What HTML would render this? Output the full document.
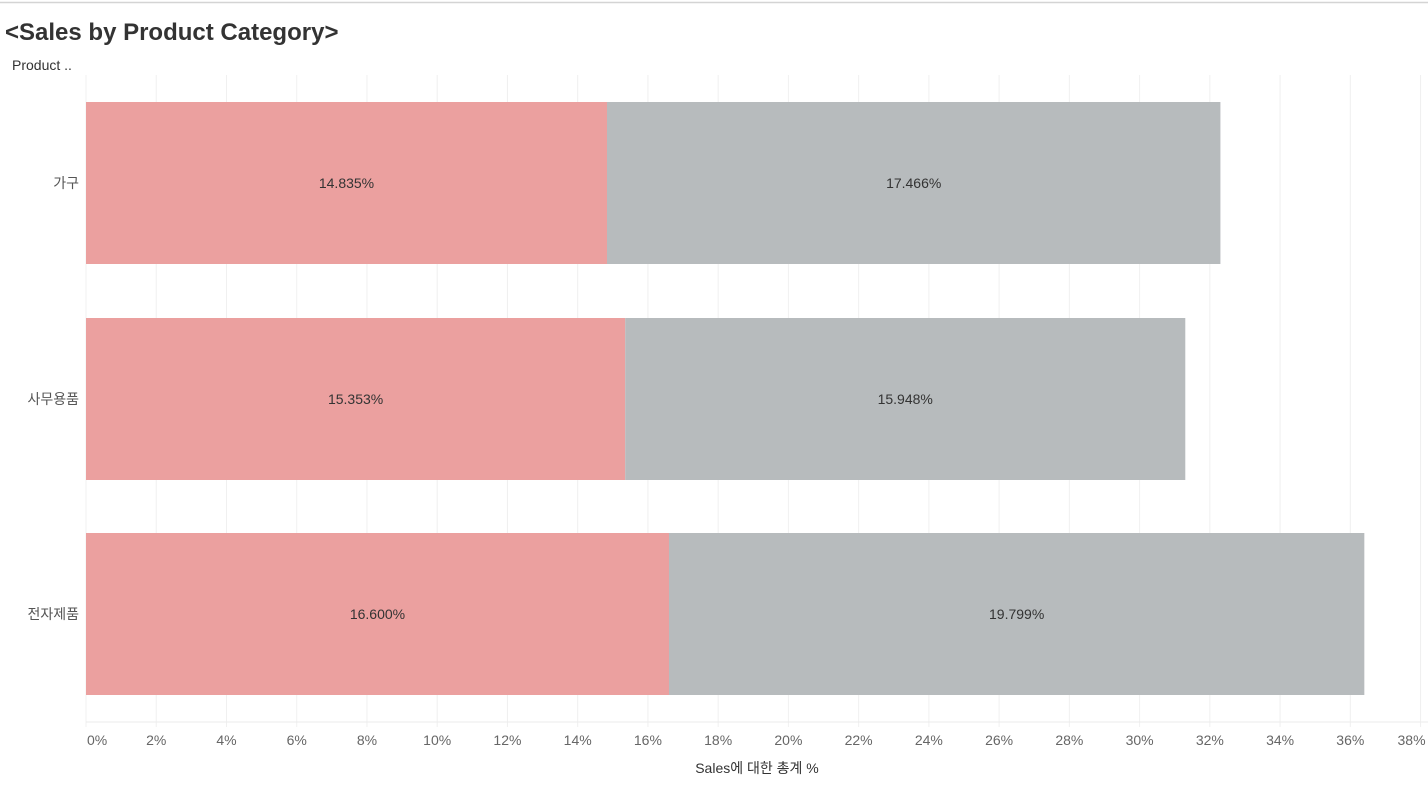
<!DOCTYPE html>
<html><head><meta charset="utf-8"><style>
body{margin:0;background:#fff;width:1428px;height:787px;overflow:hidden;font-family:"Liberation Sans","Noto Sans CJK KR",sans-serif}
</style></head><body>
<svg width="1428" height="787" xmlns="http://www.w3.org/2000/svg">
<line x1="0" y1="2.5" x2="1428" y2="2.5" stroke="#d4d4d4" stroke-width="1.5"/>
<text x="5" y="40" font-size="24" font-weight="bold" fill="#333">&lt;Sales by Product Category&gt;</text>
<text x="12" y="70" font-size="14" fill="#333">Product ..</text>
<g id="grid"></g><g id="bars"></g><g id="axis"></g>
<text x="757" y="773" font-size="14" fill="#333" text-anchor="middle">Sales에 대한 총계 %</text>
</svg>
<script>
const categories=["가구","사무용품","전자제품"];
const seriesA=[14.835,15.353,16.600];
const seriesB=[17.466,15.948,19.799];
const ticks=[0,2,4,6,8,10,12,14,16,18,20,22,24,26,28,30,32,34,36,38];
const NS="http://www.w3.org/2000/svg";
const x0=86,pxPer=35.12,rowTop=[102,318,533],barH=162;
const X=v=>x0+v*pxPer;
function mk(tag,attrs,parent,txt){const e=document.createElementNS(NS,tag);for(const k in attrs)e.setAttribute(k,attrs[k]);if(txt!==undefined)e.textContent=txt;document.getElementById(parent).appendChild(e);return e;}
ticks.forEach((t,i)=>{
 const g=mk("line",{x1:X(t),x2:X(t),y1:75,y2:727,stroke:"#f0f0f0","stroke-width":1},"grid");
 
 
 let lx=X(t),anchor="middle";
 if(i===0){lx=X(t)+1;anchor="start";}
 if(i===ticks.length-1){lx=X(t)+5;anchor="end";}
 const l=mk("text",{x:lx,y:745,"font-size":14,fill:"#666","text-anchor":anchor},"axis",t+"%");
 
 
});
const ax=mk("line",{x1:x0,x2:1428,y1:722,y2:722,stroke:"#ebebeb","stroke-width":1},"axis");


categories.forEach((c,i)=>{
 const y=rowTop[i];
 const a=mk("rect",{x:X(0),y:y,width:X(seriesA[i])-X(0),height:barH,fill:"#eba09f"},"bars");
 
 
 const b=mk("rect",{x:X(seriesA[i]),y:y,width:X(seriesA[i]+seriesB[i])-X(seriesA[i]),height:barH,fill:"#b7bbbd"},"bars");
 
 
 const ta=mk("text",{x:(X(0)+X(seriesA[i]))/2,y:y+barH/2+5,"font-size":14,fill:"#333","text-anchor":"middle"},"bars",seriesA[i].toFixed(3)+"%");
 
 
 const tb=mk("text",{x:(X(seriesA[i])+X(seriesA[i]+seriesB[i]))/2,y:y+barH/2+5,"font-size":14,fill:"#333","text-anchor":"middle"},"bars",seriesB[i].toFixed(3)+"%");
 
 
 const cl=mk("text",{x:79,y:y+barH/2+5,"font-size":14,fill:"#555","text-anchor":"end"},"axis",c);
 
 
});
</script>
</body></html>
